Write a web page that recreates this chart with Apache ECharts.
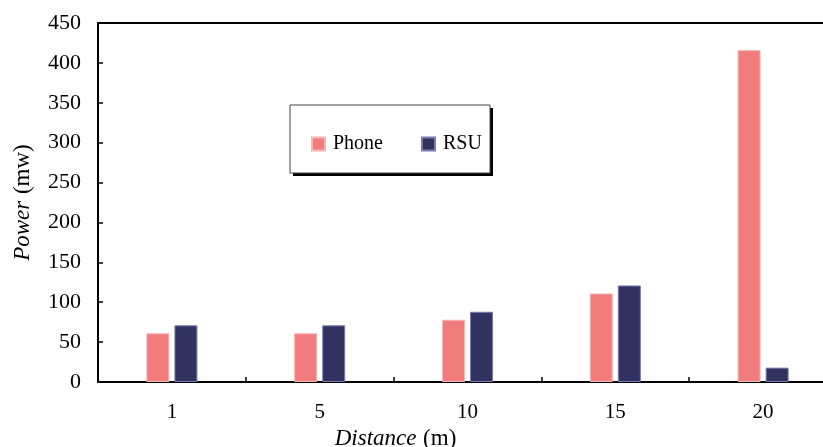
<!DOCTYPE html>
<html>
<head>
<meta charset="utf-8">
<script src="https://cdn.jsdelivr.net/npm/echarts@6/dist/echarts.min.js"></script>
<style>html,body{margin:0;padding:0;background:#fff;}#c{width:823px;height:447px;}</style>
</head>
<body>
<div id="c"></div>
<script>
const categories = ['1', '5', '10', '15', '20'];
const phone = [61, 61, 78, 111, 416];
const rsu = [71, 71, 88, 121, 18];
const yTicks = {min: 0, max: 450, interval: 50};

const FONT = '"Liberation Serif", "Times New Roman", serif';
const chart = echarts.init(document.getElementById('c'));
chart.setOption({
  animation: false,
  backgroundColor: '#fff',
  grid: {left: 98, top: 23, right: -14, bottom: 65, outerBoundsMode: 'none', containLabel: false},
  graphic: [{
    type: 'rect',
    shape: {x: 293, y: 108, width: 200, height: 68},
    style: {fill: '#000'},
    z: 9
  }, {
    type: 'rect',
    shape: {x: 290, y: 105, width: 200, height: 68},
    style: {fill: '#fff', stroke: '#444', lineWidth: 1},
    z: 10
  }],
  legend: {
    left: 311, top: 134, z: 20, padding: 0,
    icon: 'rect', itemWidth: 13, itemHeight: 13, itemGap: 38,
    textStyle: {fontFamily: FONT, fontSize: 20, color: '#000', padding: [0, 0, 0, 3]},
    data: ['Phone', 'RSU']
  },
  xAxis: [{
    type: 'category', data: categories, boundaryGap: true,
    axisLine: {lineStyle: {color: '#000', width: 2}},
    axisTick: {show: true, inside: true, length: 5, interval: 0, lineStyle: {color: '#000', width: 1.5}},
    axisLabel: {fontFamily: FONT, fontSize: 21, color: '#000', margin: 20},
    name: '{i|Distance}  {n|(m)}', nameLocation: 'middle', nameGap: 42,
    nameTextStyle: {padding: [0, 144, 0, 0], rich: {i: {fontFamily: FONT, fontSize: 23, fontStyle: 'italic', color: '#000'}, n: {fontFamily: FONT, fontSize: 23, color: '#000'}}}
  }, {
    type: 'category', data: categories, position: 'top',
    axisLine: {lineStyle: {color: '#000', width: 2}},
    axisTick: {show: false}, axisLabel: {show: false}
  }],
  yAxis: {
    type: 'value', min: yTicks.min, max: yTicks.max, interval: yTicks.interval,
    axisLine: {show: true, lineStyle: {color: '#000', width: 2}},
    axisTick: {show: true, inside: true, length: 5, lineStyle: {color: '#000', width: 1.5}},
    splitLine: {show: false},
    axisLabel: {fontFamily: FONT, fontSize: 22, color: '#000', margin: 17},
    name: '{i|Power}  {n|(mw)}', nameLocation: 'middle', nameGap: 64,
    nameTextStyle: {rich: {i: {fontFamily: FONT, fontSize: 23, fontStyle: 'italic', color: '#000'}, n: {fontFamily: FONT, fontSize: 23, color: '#000'}}}
  },
  series: [{
    name: 'Phone', type: 'bar', data: phone, barWidth: 23, barGap: '22%',
    itemStyle: {color: '#F27C7C', borderColor: '#F7B5B5', borderWidth: 1}
  }, {
    name: 'RSU', type: 'bar', data: rsu, barWidth: 23,
    itemStyle: {color: '#323260', borderColor: '#7A7AB0', borderWidth: 1}
  }]
});
</script>
</body>
</html>
